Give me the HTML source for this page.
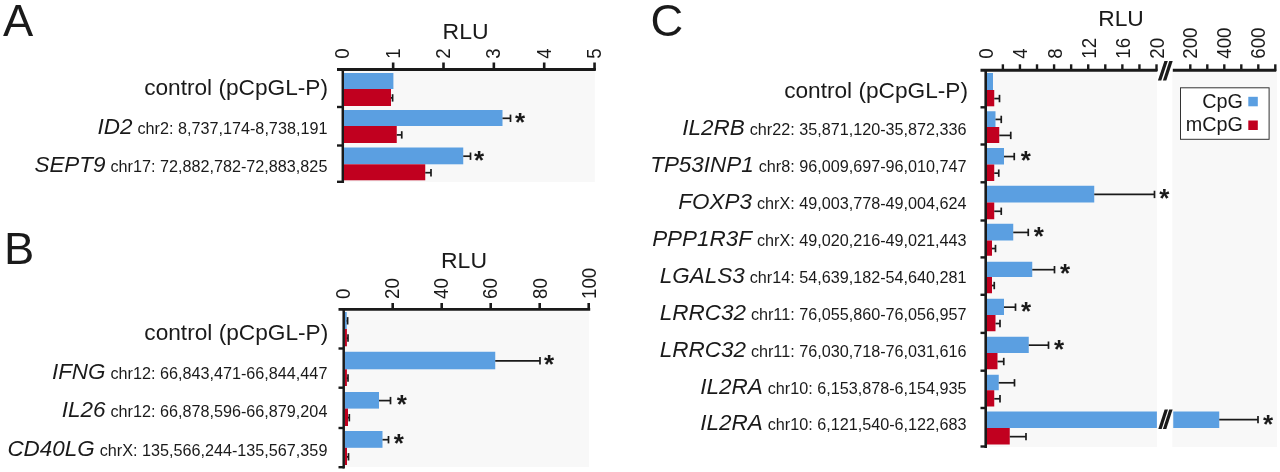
<!DOCTYPE html>
<html lang="en"><head><meta charset="utf-8"><title>Figure</title>
<style>
html,body{margin:0;padding:0;background:#fff;}
svg{display:block;}
svg text{font-family:"Liberation Sans",sans-serif;fill:#1a1a1a;}
</style></head><body>
<svg width="1280" height="472" viewBox="0 0 1280 472">
<rect width="1280" height="472" fill="#fff"/>
<text transform="translate(3.00,36.20) scale(1.03,1)" font-size="44" text-anchor="start" >A</text>
<text transform="translate(465.60,38.80) scale(1.045,1)" font-size="22" text-anchor="middle" >RLU</text>
<rect x="343.00" y="70.00" width="251.80" height="112.00" fill="#f8f8f8"/>
<text transform="translate(349.44,58.80) rotate(-90) scale(0.91,1)" font-size="20.5">0</text>
<text transform="translate(399.79,58.80) rotate(-90) scale(0.91,1)" font-size="20.5">1</text>
<line x1="393.15" y1="62.50" x2="393.15" y2="70.00" stroke="#1a1a1a" stroke-width="2.6" />
<text transform="translate(450.14,58.80) rotate(-90) scale(0.91,1)" font-size="20.5">2</text>
<line x1="443.50" y1="62.50" x2="443.50" y2="70.00" stroke="#1a1a1a" stroke-width="2.6" />
<text transform="translate(500.49,58.80) rotate(-90) scale(0.91,1)" font-size="20.5">3</text>
<line x1="493.85" y1="62.50" x2="493.85" y2="70.00" stroke="#1a1a1a" stroke-width="2.6" />
<text transform="translate(550.84,58.80) rotate(-90) scale(0.91,1)" font-size="20.5">4</text>
<line x1="544.20" y1="62.50" x2="544.20" y2="70.00" stroke="#1a1a1a" stroke-width="2.6" />
<text transform="translate(601.19,58.80) rotate(-90) scale(0.91,1)" font-size="20.5">5</text>
<line x1="594.55" y1="62.50" x2="594.55" y2="70.00" stroke="#1a1a1a" stroke-width="2.6" />
<line x1="337.00" y1="69.50" x2="595.80" y2="69.50" stroke="#1a1a1a" stroke-width="2.9" />
<line x1="342.80" y1="68.20" x2="342.80" y2="183.00" stroke="#1a1a1a" stroke-width="2.5" />
<line x1="337.00" y1="107.00" x2="343.00" y2="107.00" stroke="#1a1a1a" stroke-width="2.4" />
<line x1="337.00" y1="145.50" x2="343.00" y2="145.50" stroke="#1a1a1a" stroke-width="2.4" />
<line x1="337.00" y1="181.80" x2="343.00" y2="181.80" stroke="#1a1a1a" stroke-width="2.4" />
<text transform="translate(328.00,94.90) scale(1.055,1)" font-size="21.5" text-anchor="end" >control (pCpGL-P)</text>
<text x="327.40" y="134.10" text-anchor="end" font-size="16.2">chr2: 8,737,174-8,738,191</text>
<text transform="translate(132.55,134.10) scale(1.04,1)" text-anchor="end" font-size="21.6" font-style="italic">ID2</text>
<text x="327.40" y="171.80" text-anchor="end" font-size="16.2">chr17: 72,882,782-72,883,825</text>
<text transform="translate(105.52,171.80) scale(1.04,1)" text-anchor="end" font-size="21.6" font-style="italic">SEPT9</text>
<rect x="344.00" y="73.00" width="49.40" height="16.00" fill="#5b9fe1"/>
<rect x="344.00" y="89.00" width="47.00" height="17.00" fill="#c1001f"/>
<line x1="391.00" y1="97.90" x2="392.60" y2="97.90" stroke="#1a1a1a" stroke-width="1.7" />
<line x1="392.60" y1="94.20" x2="392.60" y2="101.60" stroke="#1a1a1a" stroke-width="1.7" />
<rect x="344.00" y="110.00" width="158.50" height="16.00" fill="#5b9fe1"/>
<rect x="344.00" y="126.00" width="52.75" height="17.00" fill="#c1001f"/>
<line x1="502.50" y1="118.30" x2="510.50" y2="118.30" stroke="#1a1a1a" stroke-width="1.7" />
<line x1="510.50" y1="114.60" x2="510.50" y2="122.00" stroke="#1a1a1a" stroke-width="1.7" />
<line x1="396.75" y1="134.90" x2="401.75" y2="134.90" stroke="#1a1a1a" stroke-width="1.7" />
<line x1="401.75" y1="131.20" x2="401.75" y2="138.60" stroke="#1a1a1a" stroke-width="1.7" />
<text x="520.00" y="131.02" font-size="26" font-weight="bold" text-anchor="middle">*</text>
<rect x="344.00" y="147.50" width="119.25" height="16.80" fill="#5b9fe1"/>
<rect x="344.00" y="164.30" width="81.25" height="16.00" fill="#c1001f"/>
<line x1="463.25" y1="156.20" x2="470.50" y2="156.20" stroke="#1a1a1a" stroke-width="1.7" />
<line x1="470.50" y1="152.50" x2="470.50" y2="159.90" stroke="#1a1a1a" stroke-width="1.7" />
<line x1="425.25" y1="172.70" x2="431.00" y2="172.70" stroke="#1a1a1a" stroke-width="1.7" />
<line x1="431.00" y1="169.00" x2="431.00" y2="176.40" stroke="#1a1a1a" stroke-width="1.7" />
<text x="479.00" y="168.92" font-size="26" font-weight="bold" text-anchor="middle">*</text>
<text transform="translate(3.90,264.10) scale(1.03,1)" font-size="44" text-anchor="start" >B</text>
<text transform="translate(464.00,267.90) scale(1.045,1)" font-size="22" text-anchor="middle" >RLU</text>
<rect x="344.00" y="310.00" width="245.00" height="157.00" fill="#f8f8f8"/>
<text transform="translate(349.54,298.90) rotate(-90) scale(0.91,1)" font-size="20.5">0</text>
<text transform="translate(398.79,298.90) rotate(-90) scale(0.91,1)" font-size="20.5">20</text>
<line x1="392.70" y1="303.00" x2="392.70" y2="310.00" stroke="#1a1a1a" stroke-width="2.6" />
<text transform="translate(448.04,298.90) rotate(-90) scale(0.91,1)" font-size="20.5">40</text>
<line x1="441.70" y1="303.00" x2="441.70" y2="310.00" stroke="#1a1a1a" stroke-width="2.6" />
<text transform="translate(497.29,298.90) rotate(-90) scale(0.91,1)" font-size="20.5">60</text>
<line x1="490.70" y1="303.00" x2="490.70" y2="310.00" stroke="#1a1a1a" stroke-width="2.6" />
<text transform="translate(546.54,298.90) rotate(-90) scale(0.91,1)" font-size="20.5">80</text>
<line x1="539.70" y1="303.00" x2="539.70" y2="310.00" stroke="#1a1a1a" stroke-width="2.6" />
<text transform="translate(595.79,298.90) rotate(-90) scale(0.91,1)" font-size="20.5">100</text>
<line x1="588.70" y1="303.00" x2="588.70" y2="310.00" stroke="#1a1a1a" stroke-width="2.6" />
<line x1="338.50" y1="309.40" x2="590.20" y2="309.40" stroke="#1a1a1a" stroke-width="2.8" />
<line x1="343.70" y1="308.00" x2="343.70" y2="468.50" stroke="#1a1a1a" stroke-width="2.5" />
<line x1="338.50" y1="348.50" x2="344.00" y2="348.50" stroke="#1a1a1a" stroke-width="2.4" />
<line x1="338.50" y1="387.70" x2="344.00" y2="387.70" stroke="#1a1a1a" stroke-width="2.4" />
<line x1="338.50" y1="428.00" x2="344.00" y2="428.00" stroke="#1a1a1a" stroke-width="2.4" />
<line x1="338.50" y1="467.20" x2="344.00" y2="467.20" stroke="#1a1a1a" stroke-width="2.4" />
<text transform="translate(328.20,340.10) scale(1.055,1)" font-size="21.5" text-anchor="end" >control (pCpGL-P)</text>
<text x="327.40" y="378.50" text-anchor="end" font-size="16.2">chr12: 66,843,471-66,844,447</text>
<text transform="translate(105.52,378.50) scale(1.04,1)" text-anchor="end" font-size="21.6" font-style="italic">IFNG</text>
<text x="327.40" y="417.20" text-anchor="end" font-size="16.2">chr12: 66,878,596-66,879,204</text>
<text transform="translate(105.52,417.20) scale(1.04,1)" text-anchor="end" font-size="21.6" font-style="italic">IL26</text>
<text x="327.40" y="455.70" text-anchor="end" font-size="16.2">chrX: 135,566,244-135,567,359</text>
<text transform="translate(94.71,455.70) scale(1.04,1)" text-anchor="end" font-size="21.6" font-style="italic">CD40LG</text>
<rect x="345.00" y="312.00" width="1.70" height="17.00" fill="#5b9fe1"/>
<rect x="345.00" y="329.00" width="1.90" height="17.30" fill="#c1001f"/>
<line x1="346.70" y1="320.80" x2="347.60" y2="320.80" stroke="#1a1a1a" stroke-width="1.7" />
<line x1="347.60" y1="317.10" x2="347.60" y2="324.50" stroke="#1a1a1a" stroke-width="1.7" />
<line x1="346.90" y1="338.05" x2="348.00" y2="338.05" stroke="#1a1a1a" stroke-width="1.7" />
<line x1="348.00" y1="334.35" x2="348.00" y2="341.75" stroke="#1a1a1a" stroke-width="1.7" />
<rect x="345.00" y="351.75" width="150.25" height="17.55" fill="#5b9fe1"/>
<rect x="345.00" y="369.30" width="1.90" height="16.70" fill="#c1001f"/>
<line x1="495.25" y1="360.82" x2="540.00" y2="360.82" stroke="#1a1a1a" stroke-width="1.7" />
<line x1="540.00" y1="357.12" x2="540.00" y2="364.52" stroke="#1a1a1a" stroke-width="1.7" />
<line x1="346.90" y1="378.05" x2="348.00" y2="378.05" stroke="#1a1a1a" stroke-width="1.7" />
<line x1="348.00" y1="374.35" x2="348.00" y2="381.75" stroke="#1a1a1a" stroke-width="1.7" />
<text x="549.00" y="373.34" font-size="26" font-weight="bold" text-anchor="middle">*</text>
<rect x="345.00" y="392.00" width="34.00" height="16.60" fill="#5b9fe1"/>
<rect x="345.00" y="408.60" width="3.00" height="17.40" fill="#c1001f"/>
<line x1="379.00" y1="400.60" x2="390.50" y2="400.60" stroke="#1a1a1a" stroke-width="1.7" />
<line x1="390.50" y1="396.90" x2="390.50" y2="404.30" stroke="#1a1a1a" stroke-width="1.7" />
<line x1="348.00" y1="417.70" x2="349.30" y2="417.70" stroke="#1a1a1a" stroke-width="1.7" />
<line x1="349.30" y1="414.00" x2="349.30" y2="421.40" stroke="#1a1a1a" stroke-width="1.7" />
<text x="401.75" y="413.12" font-size="26" font-weight="bold" text-anchor="middle">*</text>
<rect x="345.00" y="431.00" width="37.50" height="16.80" fill="#5b9fe1"/>
<rect x="345.00" y="447.80" width="2.00" height="17.20" fill="#c1001f"/>
<line x1="382.50" y1="439.70" x2="388.50" y2="439.70" stroke="#1a1a1a" stroke-width="1.7" />
<line x1="388.50" y1="436.00" x2="388.50" y2="443.40" stroke="#1a1a1a" stroke-width="1.7" />
<line x1="347.00" y1="456.80" x2="348.50" y2="456.80" stroke="#1a1a1a" stroke-width="1.7" />
<line x1="348.50" y1="453.10" x2="348.50" y2="460.50" stroke="#1a1a1a" stroke-width="1.7" />
<text x="398.75" y="452.22" font-size="26" font-weight="bold" text-anchor="middle">*</text>
<text transform="translate(650.40,35.90) scale(1.03,1)" font-size="44" text-anchor="start" >C</text>
<text transform="translate(1121.00,25.50) scale(1.036,1)" font-size="22" text-anchor="middle" >RLU</text>
<rect x="986.00" y="71.00" width="171.00" height="376.00" fill="#f8f8f8"/>
<rect x="1172.30" y="71.00" width="104.70" height="376.00" fill="#f8f8f8"/>
<text transform="translate(993.34,58.70) rotate(-90) scale(0.91,1)" font-size="20.5">0</text>
<line x1="1002.87" y1="64.30" x2="1002.87" y2="71.00" stroke="#1a1a1a" stroke-width="2.4" />
<text transform="translate(1027.42,58.70) rotate(-90) scale(0.91,1)" font-size="20.5">4</text>
<line x1="1019.94" y1="64.30" x2="1019.94" y2="71.00" stroke="#1a1a1a" stroke-width="2.4" />
<line x1="1037.01" y1="64.30" x2="1037.01" y2="71.00" stroke="#1a1a1a" stroke-width="2.4" />
<text transform="translate(1061.50,58.70) rotate(-90) scale(0.91,1)" font-size="20.5">8</text>
<line x1="1054.08" y1="64.30" x2="1054.08" y2="71.00" stroke="#1a1a1a" stroke-width="2.4" />
<line x1="1071.15" y1="64.30" x2="1071.15" y2="71.00" stroke="#1a1a1a" stroke-width="2.4" />
<text transform="translate(1095.58,58.70) rotate(-90) scale(0.91,1)" font-size="20.5">12</text>
<line x1="1088.22" y1="64.30" x2="1088.22" y2="71.00" stroke="#1a1a1a" stroke-width="2.4" />
<line x1="1105.29" y1="64.30" x2="1105.29" y2="71.00" stroke="#1a1a1a" stroke-width="2.4" />
<text transform="translate(1129.66,58.70) rotate(-90) scale(0.91,1)" font-size="20.5">16</text>
<line x1="1122.36" y1="64.30" x2="1122.36" y2="71.00" stroke="#1a1a1a" stroke-width="2.4" />
<line x1="1139.43" y1="64.30" x2="1139.43" y2="71.00" stroke="#1a1a1a" stroke-width="2.4" />
<text transform="translate(1163.74,58.70) rotate(-90) scale(0.91,1)" font-size="20.5">20</text>
<line x1="1156.50" y1="64.30" x2="1156.50" y2="71.00" stroke="#1a1a1a" stroke-width="2.4" />
<line x1="980.50" y1="70.30" x2="1157.40" y2="70.30" stroke="#1a1a1a" stroke-width="2.9" />
<line x1="985.70" y1="69.50" x2="985.70" y2="448.00" stroke="#1a1a1a" stroke-width="2.6" />
<line x1="1172.80" y1="70.30" x2="1276.20" y2="70.30" stroke="#1a1a1a" stroke-width="2.9" />
<line x1="1190.30" y1="64.30" x2="1190.30" y2="71.00" stroke="#1a1a1a" stroke-width="2.4" />
<text transform="translate(1197.34,58.70) rotate(-90) scale(0.91,1)" font-size="20.5">200</text>
<line x1="1207.30" y1="64.30" x2="1207.30" y2="71.00" stroke="#1a1a1a" stroke-width="2.4" />
<line x1="1224.30" y1="64.30" x2="1224.30" y2="71.00" stroke="#1a1a1a" stroke-width="2.4" />
<text transform="translate(1231.34,58.70) rotate(-90) scale(0.91,1)" font-size="20.5">400</text>
<line x1="1241.30" y1="64.30" x2="1241.30" y2="71.00" stroke="#1a1a1a" stroke-width="2.4" />
<line x1="1258.30" y1="64.30" x2="1258.30" y2="71.00" stroke="#1a1a1a" stroke-width="2.4" />
<text transform="translate(1265.34,58.70) rotate(-90) scale(0.91,1)" font-size="20.5">600</text>
<line x1="1275.30" y1="64.30" x2="1275.30" y2="71.00" stroke="#1a1a1a" stroke-width="2.4" />
<line x1="980.50" y1="107.30" x2="986.00" y2="107.30" stroke="#1a1a1a" stroke-width="2.4" />
<line x1="980.50" y1="144.50" x2="986.00" y2="144.50" stroke="#1a1a1a" stroke-width="2.4" />
<line x1="980.50" y1="182.30" x2="986.00" y2="182.30" stroke="#1a1a1a" stroke-width="2.4" />
<line x1="980.50" y1="220.50" x2="986.00" y2="220.50" stroke="#1a1a1a" stroke-width="2.4" />
<line x1="980.50" y1="257.40" x2="986.00" y2="257.40" stroke="#1a1a1a" stroke-width="2.4" />
<line x1="980.50" y1="294.80" x2="986.00" y2="294.80" stroke="#1a1a1a" stroke-width="2.4" />
<line x1="980.50" y1="332.90" x2="986.00" y2="332.90" stroke="#1a1a1a" stroke-width="2.4" />
<line x1="980.50" y1="370.70" x2="986.00" y2="370.70" stroke="#1a1a1a" stroke-width="2.4" />
<line x1="980.50" y1="408.00" x2="986.00" y2="408.00" stroke="#1a1a1a" stroke-width="2.4" />
<line x1="980.50" y1="446.50" x2="986.00" y2="446.50" stroke="#1a1a1a" stroke-width="2.4" />
<polygon points="1157.90,80.5 1161.30,80.5 1167.80,61 1164.40,61" fill="#1a1a1a"/>
<polygon points="1162.90,80.5 1166.30,80.5 1172.70,61 1169.30,61" fill="#1a1a1a"/>
<text transform="translate(968.00,98.00) scale(1.055,1)" font-size="21.5" text-anchor="end" >control (pCpGL-P)</text>
<text x="966.60" y="135.20" text-anchor="end" font-size="16.2">chr22: 35,871,120-35,872,336</text>
<text transform="translate(744.72,135.20) scale(1.04,1)" text-anchor="end" font-size="21.6" font-style="italic">IL2RB</text>
<text x="966.60" y="172.10" text-anchor="end" font-size="16.2">chr8: 96,009,697-96,010,747</text>
<text transform="translate(753.73,172.10) scale(1.04,1)" text-anchor="end" font-size="21.6" font-style="italic">TP53INP1</text>
<text x="966.60" y="209.00" text-anchor="end" font-size="16.2">chrX: 49,003,778-49,004,624</text>
<text transform="translate(751.93,209.00) scale(1.04,1)" text-anchor="end" font-size="21.6" font-style="italic">FOXP3</text>
<text x="966.60" y="245.90" text-anchor="end" font-size="16.2">chrX: 49,020,216-49,021,443</text>
<text transform="translate(751.93,245.90) scale(1.04,1)" text-anchor="end" font-size="21.6" font-style="italic">PPP1R3F</text>
<text x="966.60" y="282.80" text-anchor="end" font-size="16.2">chr14: 54,639,182-54,640,281</text>
<text transform="translate(744.72,282.80) scale(1.04,1)" text-anchor="end" font-size="21.6" font-style="italic">LGALS3</text>
<text x="966.60" y="319.70" text-anchor="end" font-size="16.2">chr11: 76,055,860-76,056,957</text>
<text transform="translate(745.92,319.70) scale(1.04,1)" text-anchor="end" font-size="21.6" font-style="italic">LRRC32</text>
<text x="966.60" y="356.60" text-anchor="end" font-size="16.2">chr11: 76,030,718-76,031,616</text>
<text transform="translate(745.92,356.60) scale(1.04,1)" text-anchor="end" font-size="21.6" font-style="italic">LRRC32</text>
<text x="966.60" y="393.50" text-anchor="end" font-size="16.2">chr10: 6,153,878-6,154,935</text>
<text transform="translate(762.74,393.50) scale(1.04,1)" text-anchor="end" font-size="21.6" font-style="italic">IL2RA</text>
<text x="966.60" y="430.40" text-anchor="end" font-size="16.2">chr10: 6,121,540-6,122,683</text>
<text transform="translate(762.74,430.40) scale(1.04,1)" text-anchor="end" font-size="21.6" font-style="italic">IL2RA</text>
<rect x="987.00" y="73.00" width="6.00" height="17.00" fill="#5b9fe1"/>
<rect x="987.00" y="90.00" width="7.25" height="16.30" fill="#c1001f"/>
<line x1="994.25" y1="98.55" x2="999.50" y2="98.55" stroke="#1a1a1a" stroke-width="1.7" />
<line x1="999.50" y1="94.85" x2="999.50" y2="102.25" stroke="#1a1a1a" stroke-width="1.7" />
<rect x="987.00" y="111.25" width="8.50" height="15.75" fill="#5b9fe1"/>
<rect x="987.00" y="127.00" width="12.25" height="16.00" fill="#c1001f"/>
<line x1="995.50" y1="119.42" x2="1001.25" y2="119.42" stroke="#1a1a1a" stroke-width="1.7" />
<line x1="1001.25" y1="115.72" x2="1001.25" y2="123.12" stroke="#1a1a1a" stroke-width="1.7" />
<line x1="999.25" y1="135.40" x2="1010.75" y2="135.40" stroke="#1a1a1a" stroke-width="1.7" />
<line x1="1010.75" y1="131.70" x2="1010.75" y2="139.10" stroke="#1a1a1a" stroke-width="1.7" />
<rect x="987.00" y="148.00" width="17.00" height="16.50" fill="#5b9fe1"/>
<rect x="987.00" y="164.50" width="7.25" height="16.50" fill="#c1001f"/>
<line x1="1004.00" y1="156.55" x2="1014.25" y2="156.55" stroke="#1a1a1a" stroke-width="1.7" />
<line x1="1014.25" y1="152.85" x2="1014.25" y2="160.25" stroke="#1a1a1a" stroke-width="1.7" />
<line x1="994.25" y1="173.15" x2="998.75" y2="173.15" stroke="#1a1a1a" stroke-width="1.7" />
<line x1="998.75" y1="169.45" x2="998.75" y2="176.85" stroke="#1a1a1a" stroke-width="1.7" />
<text x="1025.75" y="169.07" font-size="26" font-weight="bold" text-anchor="middle">*</text>
<rect x="987.00" y="185.75" width="107.25" height="16.75" fill="#5b9fe1"/>
<rect x="987.00" y="202.50" width="7.25" height="16.75" fill="#c1001f"/>
<line x1="1094.25" y1="194.43" x2="1154.50" y2="194.43" stroke="#1a1a1a" stroke-width="1.7" />
<line x1="1154.50" y1="190.73" x2="1154.50" y2="198.12" stroke="#1a1a1a" stroke-width="1.7" />
<line x1="994.25" y1="211.28" x2="1001.25" y2="211.28" stroke="#1a1a1a" stroke-width="1.7" />
<line x1="1001.25" y1="207.58" x2="1001.25" y2="214.97" stroke="#1a1a1a" stroke-width="1.7" />
<text x="1164.25" y="206.94" font-size="26" font-weight="bold" text-anchor="middle">*</text>
<rect x="987.00" y="223.75" width="26.25" height="16.75" fill="#5b9fe1"/>
<rect x="987.00" y="240.50" width="5.00" height="15.25" fill="#c1001f"/>
<line x1="1013.25" y1="232.43" x2="1028.25" y2="232.43" stroke="#1a1a1a" stroke-width="1.7" />
<line x1="1028.25" y1="228.73" x2="1028.25" y2="236.12" stroke="#1a1a1a" stroke-width="1.7" />
<line x1="992.00" y1="248.53" x2="995.50" y2="248.53" stroke="#1a1a1a" stroke-width="1.7" />
<line x1="995.50" y1="244.83" x2="995.50" y2="252.22" stroke="#1a1a1a" stroke-width="1.7" />
<text x="1038.75" y="244.94" font-size="26" font-weight="bold" text-anchor="middle">*</text>
<rect x="987.00" y="261.75" width="45.25" height="15.25" fill="#5b9fe1"/>
<rect x="987.00" y="277.00" width="5.00" height="16.25" fill="#c1001f"/>
<line x1="1032.25" y1="269.68" x2="1054.50" y2="269.68" stroke="#1a1a1a" stroke-width="1.7" />
<line x1="1054.50" y1="265.98" x2="1054.50" y2="273.38" stroke="#1a1a1a" stroke-width="1.7" />
<line x1="992.00" y1="285.52" x2="994.25" y2="285.52" stroke="#1a1a1a" stroke-width="1.7" />
<line x1="994.25" y1="281.82" x2="994.25" y2="289.22" stroke="#1a1a1a" stroke-width="1.7" />
<text x="1065.00" y="282.19" font-size="26" font-weight="bold" text-anchor="middle">*</text>
<rect x="987.00" y="298.75" width="17.00" height="16.25" fill="#5b9fe1"/>
<rect x="987.00" y="315.00" width="8.50" height="16.25" fill="#c1001f"/>
<line x1="1004.00" y1="307.18" x2="1015.50" y2="307.18" stroke="#1a1a1a" stroke-width="1.7" />
<line x1="1015.50" y1="303.48" x2="1015.50" y2="310.88" stroke="#1a1a1a" stroke-width="1.7" />
<line x1="995.50" y1="323.52" x2="1000.00" y2="323.52" stroke="#1a1a1a" stroke-width="1.7" />
<line x1="1000.00" y1="319.82" x2="1000.00" y2="327.22" stroke="#1a1a1a" stroke-width="1.7" />
<text x="1026.00" y="319.69" font-size="26" font-weight="bold" text-anchor="middle">*</text>
<rect x="987.00" y="336.75" width="41.75" height="16.25" fill="#5b9fe1"/>
<rect x="987.00" y="353.00" width="10.50" height="16.25" fill="#c1001f"/>
<line x1="1028.75" y1="345.18" x2="1048.50" y2="345.18" stroke="#1a1a1a" stroke-width="1.7" />
<line x1="1048.50" y1="341.48" x2="1048.50" y2="348.88" stroke="#1a1a1a" stroke-width="1.7" />
<line x1="997.50" y1="361.52" x2="1003.75" y2="361.52" stroke="#1a1a1a" stroke-width="1.7" />
<line x1="1003.75" y1="357.82" x2="1003.75" y2="365.22" stroke="#1a1a1a" stroke-width="1.7" />
<text x="1059.00" y="357.69" font-size="26" font-weight="bold" text-anchor="middle">*</text>
<rect x="987.00" y="374.75" width="11.75" height="15.50" fill="#5b9fe1"/>
<rect x="987.00" y="390.25" width="7.25" height="16.25" fill="#c1001f"/>
<line x1="998.75" y1="382.80" x2="1014.50" y2="382.80" stroke="#1a1a1a" stroke-width="1.7" />
<line x1="1014.50" y1="379.10" x2="1014.50" y2="386.50" stroke="#1a1a1a" stroke-width="1.7" />
<line x1="994.25" y1="398.77" x2="1000.00" y2="398.77" stroke="#1a1a1a" stroke-width="1.7" />
<line x1="1000.00" y1="395.07" x2="1000.00" y2="402.47" stroke="#1a1a1a" stroke-width="1.7" />
<rect x="987.00" y="411.50" width="169.90" height="16.50" fill="#5b9fe1"/>
<rect x="987.00" y="428.00" width="22.75" height="16.50" fill="#c1001f"/>
<line x1="1009.75" y1="436.65" x2="1026.00" y2="436.65" stroke="#1a1a1a" stroke-width="1.7" />
<line x1="1026.00" y1="432.95" x2="1026.00" y2="440.35" stroke="#1a1a1a" stroke-width="1.7" />
<rect x="1173.25" y="411.50" width="46.00" height="16.50" fill="#5b9fe1"/>
<line x1="1219.25" y1="419.60" x2="1258.00" y2="419.60" stroke="#1a1a1a" stroke-width="1.7" />
<line x1="1258.00" y1="415.90" x2="1258.00" y2="423.30" stroke="#1a1a1a" stroke-width="1.7" />
<text x="1268.00" y="432.52" font-size="26" font-weight="bold" text-anchor="middle">*</text>
<polygon points="1158.30,429 1161.70,429 1168.00,409.5 1164.60,409.5" fill="#1a1a1a"/>
<polygon points="1162.90,429 1166.30,429 1172.60,409.5 1169.20,409.5" fill="#1a1a1a"/>
<rect x="1180.5" y="87.8" width="88.6" height="51.5" fill="#fff" stroke="#333" stroke-width="1"/>
<text x="1243.00" y="107.70" font-size="19.8" text-anchor="end" >CpG</text>
<text x="1243.00" y="131.20" font-size="19.8" text-anchor="end" >mCpG</text>
<rect x="1248.30" y="96.80" width="9.50" height="9.50" fill="#5b9fe1"/>
<rect x="1248.30" y="120.50" width="9.50" height="9.50" fill="#c1001f"/>
</svg>
</body></html>
